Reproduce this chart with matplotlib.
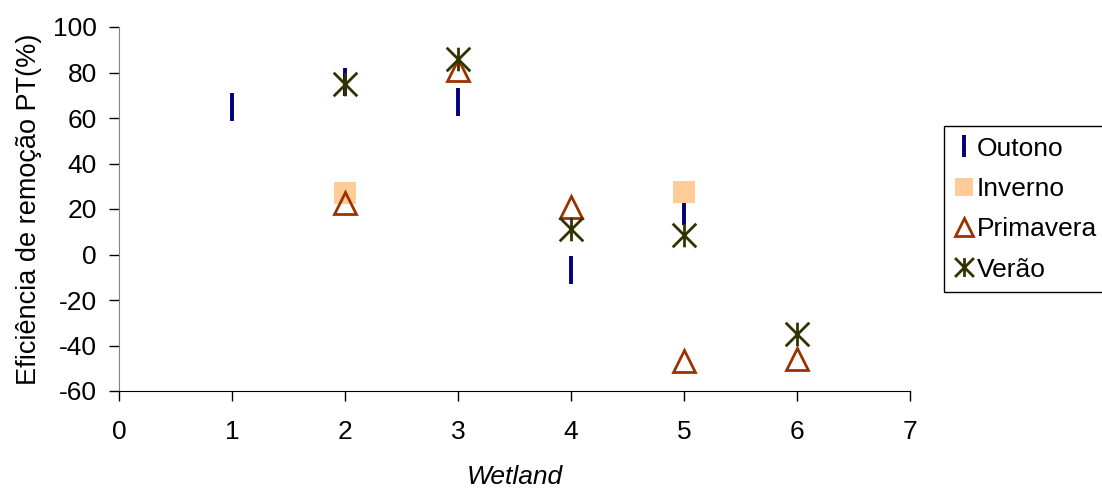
import matplotlib
matplotlib.use("Agg")
import matplotlib.pyplot as plt
from matplotlib.path import Path

plt.rcParams['font.family'] = ['Liberation Sans', 'DejaVu Sans']
plt.rcParams['axes.unicode_minus'] = False

wetland_outono = [1, 2, 3, 4, 5]
outono = [65, 76, 67, -7, 19]
wetland_inverno = [2, 5]
inverno = [27, 27.5]
wetland_primavera = [2, 3, 4, 5, 6]
primavera = [22.5, 81, 21, -47, -46]
wetland_verao = [2, 3, 4, 5, 6]
verao = [75, 86, 11, 8.5, -35]

xticks = [0, 1, 2, 3, 4, 5, 6, 7]
yticks = [-60, -40, -20, 0, 20, 40, 60, 80, 100]

star = Path([(-1, -1), (1, 1), (-1, 1), (1, -1), (0, -1), (0, 1)],
            [Path.MOVETO, Path.LINETO, Path.MOVETO, Path.LINETO, Path.MOVETO, Path.LINETO])

fig = plt.figure(figsize=(11.02, 4.88), dpi=100)
ax = fig.add_axes([119/1102, 1-391/488, (910-119)/1102, (391-27)/488])

ax.plot(wetland_outono, outono, linestyle='none', marker='|', markersize=20,
        markeredgewidth=2.8, color='#000080', label='Outono')
ax.plot(wetland_inverno, inverno, linestyle='none', marker='s', markersize=15.5,
        markeredgewidth=0, color='#FFCC99', label='Inverno')
ax.plot(wetland_primavera, primavera, linestyle='none', marker='^', markersize=15.5,
        markeredgewidth=2.0, markerfacecolor='none', markeredgecolor='#993300', label='Primavera')
ax.plot(wetland_verao, verao, linestyle='none', marker=star, markersize=17,
        markeredgewidth=2.0, color='#333300', label='Verão')

ax.set_xlim(0, 7)
ax.set_ylim(-60, 100)
ax.set_xticks(xticks)
ax.set_yticks(yticks)
ax.tick_params(labelsize=19, length=7, width=1, direction='out', color='#000000')
ax.tick_params(axis='y', pad=9)
ax.tick_params(axis='x', pad=14)
ax.spines['top'].set_visible(False)
ax.spines['right'].set_visible(False)
ax.spines['left'].set_color('#808080')
ax.spines['bottom'].set_color('#000000')

ax.set_xlabel('Wetland', fontsize=19, style='italic', labelpad=15)
ax.set_ylabel('Eficiência de remoção PT(%)', fontsize=19.5, labelpad=8)

leg = fig.legend(loc='upper left', bbox_to_anchor=(944/1102, 1-126/488), fontsize=19,
                 frameon=True, fancybox=False, edgecolor='black', framealpha=1,
                 markerscale=0.8,
                 handlelength=0.7, handletextpad=0.15, labelspacing=0.62, borderpad=0.4,
                 borderaxespad=0)
leg.get_frame().set_linewidth(1)

fig.savefig('out.png', dpi=100)
